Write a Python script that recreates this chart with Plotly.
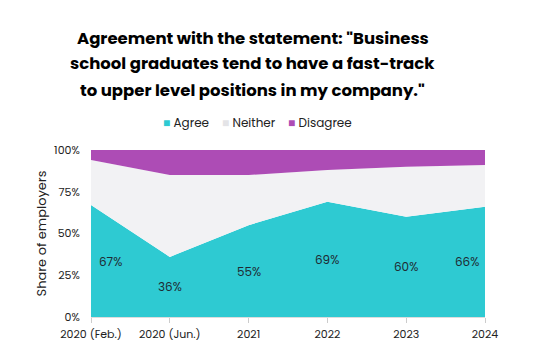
import plotly.graph_objects as go

categories = ["2020 (Feb.)", "2020 (Jun.)", "2021", "2022", "2023", "2024"]
agree = [67, 36, 55, 69, 60, 66]
neither = [27, 49, 30, 19, 30, 25]
disagree = [6, 15, 15, 12, 10, 9]
title_lines = [
    'Agreement with the statement: "Business',
    'school graduates tend to have a fast-track',
    'to upper level positions in my company."',
]

series = [("Agree", agree, "#2ECAD2"), ("Neither", neither, "#F2F2F4"), ("Disagree", disagree, "#AD4CB5")]
legend_swatch = {"Agree": "#2ECAD2", "Neither": "#E4E4E7", "Disagree": "#AD4CB5"}

FONT = "Poppins, Lato, sans-serif"

fig = go.Figure()
for name, vals, col in series:
    fig.add_trace(go.Scatter(
        x=categories, y=[v / 100 for v in vals], name=name, mode="lines",
        stackgroup="one", line=dict(width=0, color=col), fillcolor=col,
        hoverinfo="skip", showlegend=False,
    ))

n = len(categories)
for i, v in enumerate(agree):
    if i == 0:
        xa, xs = "left", 6
    elif i == n - 1:
        xa, xs = "right", -4
    else:
        xa, xs = "center", 0
    fig.add_annotation(x=i, y=v / 200, xref="x", yref="y", text=f"{v}%", showarrow=False,
                       xanchor=xa, xshift=xs, font=dict(size=12, color="#1f2a33"))

# title (three lines)
for line, yy in zip(title_lines, [1.665, 1.515, 1.359]):
    fig.add_annotation(x=0.411, y=yy, xref="paper", yref="paper", text=f"<b>{line}</b>",
                       showarrow=False, xanchor="center", yanchor="middle",
                       font=dict(size=16.5, color="#000", family=FONT))

# legend
for (name, _, _), lx in zip(series, [0.1777, 0.3274, 0.4949]):
    fig.add_annotation(x=lx, y=1.162, xref="paper", yref="paper",
                       text=f'<span style="color:{legend_swatch[name]}">■</span> {name}',
                       showarrow=False, xanchor="left", yanchor="middle",
                       font=dict(size=12, color="#222", family=FONT))

fig.update_layout(
    width=539, height=354,
    margin=dict(l=83, r=62, t=142, b=45),
    paper_bgcolor="white", plot_bgcolor="white",
    font=dict(family=FONT, color="#222"),
    showlegend=False,
)
fig.update_xaxes(type="category", range=[0, n - 1], showgrid=False, ticks="outside",
                 ticklen=5, tickcolor="#ccc", showline=True, linecolor="#ddd",
                 ticklabelstandoff=2,
                 tickfont=dict(size=11, color="#222"))
fig.update_yaxes(range=[0, 1], tickformat=".0%", dtick=0.25, showgrid=False, zeroline=False,
                 ticks="outside", ticklen=8, tickcolor="rgba(0,0,0,0)",
                 title=dict(text="Share of employers", font=dict(size=13, color="#222"), standoff=4),
                 tickfont=dict(size=11, color="#222"))

fig.write_html("out.html")
